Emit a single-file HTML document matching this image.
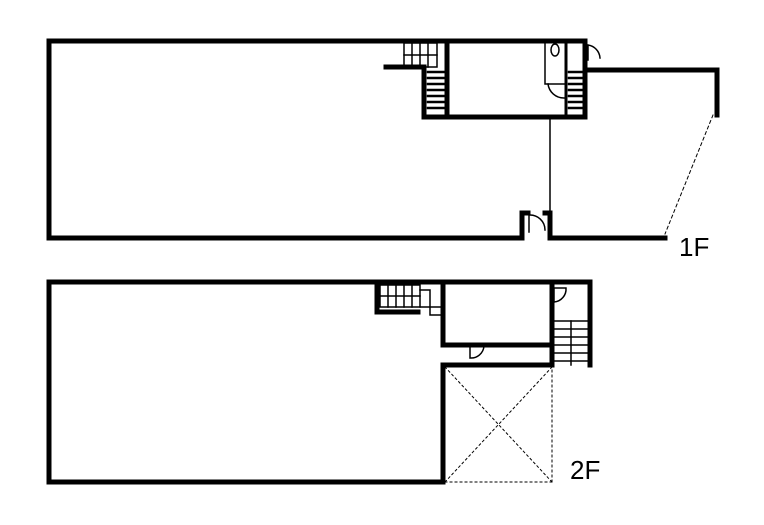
<!DOCTYPE html>
<html><head><meta charset="utf-8"><style>
html,body{margin:0;padding:0;background:#fff;width:764px;height:525px;overflow:hidden}
svg{display:block}
text{font-family:"Liberation Sans",sans-serif;font-size:26px;fill:#000}
</style></head><body>
<svg width="764" height="525" viewBox="0 0 764 525" xmlns="http://www.w3.org/2000/svg">
<g fill="none" stroke="#000" stroke-linecap="square">
<!-- 1F -->
<g stroke-width="5">
<polyline points="585,41 49,41 49,238 522,238 522,213 528,213"/>
<polyline points="545,213 550,213 550,238 665,238"/>
<polyline points="585,70 717,70 717,115"/>
<polyline points="424,67 424,117 585,117 585,41"/>
<line x1="447" y1="41" x2="447" y2="117"/>
<line x1="386" y1="67" x2="424" y2="67"/>
</g>
<line x1="566" y1="41" x2="566" y2="117" stroke-width="3"/>
<line x1="550" y1="117" x2="550" y2="213" stroke-width="1.5"/>
<line x1="713" y1="115" x2="665" y2="234" stroke-width="1" stroke-dasharray="3,3"/>
<!-- 1F stairs -->
<g stroke-width="1.5">
<rect x="404" y="43" width="33" height="24"/>
<line x1="412" y1="43" x2="412" y2="67"/><line x1="420" y1="43" x2="420" y2="67"/><line x1="428" y1="43" x2="428" y2="67"/>
<line x1="404" y1="55" x2="437" y2="55"/>
</g>
<g stroke-width="2.5">
<line x1="428" y1="72" x2="444" y2="72"/><line x1="428" y1="78" x2="444" y2="78"/><line x1="428" y1="84" x2="444" y2="84"/><line x1="428" y1="90" x2="444" y2="90"/><line x1="428" y1="96" x2="444" y2="96"/><line x1="428" y1="102" x2="444" y2="102"/><line x1="428" y1="108" x2="444" y2="108"/>
<line x1="569" y1="72" x2="582" y2="72"/><line x1="569" y1="78" x2="582" y2="78"/><line x1="569" y1="84" x2="582" y2="84"/><line x1="569" y1="90" x2="582" y2="90"/><line x1="569" y1="96" x2="582" y2="96"/><line x1="569" y1="102" x2="582" y2="102"/><line x1="569" y1="108" x2="582" y2="108"/>
</g>
<!-- bath / doors 1F -->
<g stroke-width="1.5">
<polyline points="545,41 545,84 566,84"/>
<ellipse cx="555" cy="50" rx="4" ry="6"/>
<path d="M548,84 A16,16 0 0 0 564,98"/>
<path d="M588,45 L588,60 M588,45 A14,14 0 0 1 600,58"/>
<path d="M529,215 L529,232 M529,215 A15,15 0 0 1 545,230"/>
</g>
<!-- 2F -->
<g stroke-width="5">
<polyline points="590,282 49,282 49,482 443,482 443,365 552,365"/>
<polyline points="443,285 443,345 552,345"/>
<line x1="552" y1="282" x2="552" y2="365"/>
<polyline points="590,282 590,365"/>
<polyline points="377,285 377,312 418,312"/>
</g>
<g stroke-width="1.5">
<rect x="380" y="285" width="40" height="22"/>
<line x1="388" y1="285" x2="388" y2="307"/><line x1="396" y1="285" x2="396" y2="307"/><line x1="404" y1="285" x2="404" y2="307"/><line x1="412" y1="285" x2="412" y2="307"/>
<line x1="380" y1="296" x2="420" y2="296"/>
<polyline points="420,290 430,290 430,315 443,315"/>
<line x1="420" y1="307" x2="443" y2="307"/>
<line x1="555" y1="321" x2="590" y2="321"/><line x1="555" y1="329" x2="590" y2="329"/><line x1="555" y1="337" x2="590" y2="337"/><line x1="555" y1="345" x2="590" y2="345"/><line x1="555" y1="353" x2="590" y2="353"/><line x1="555" y1="361" x2="590" y2="361"/>
<line x1="571" y1="321" x2="571" y2="365"/>
<path d="M554,288 L554,302 M554,288 L566,288 A13,13 0 0 1 554,302"/>
<path d="M470,346 L470,358 M470,358 A13,13 0 0 0 484,346"/>
</g>
<g stroke-width="1" stroke-dasharray="2,3">
<line x1="445" y1="482" x2="552" y2="482"/>
<line x1="552" y1="365" x2="552" y2="482"/>
<line x1="445" y1="367" x2="552" y2="482"/>
<line x1="552" y1="367" x2="445" y2="482"/>
</g>
</g>
<text x="679" y="256">1F</text>
<text x="570" y="479">2F</text>
</svg>
</body></html>
